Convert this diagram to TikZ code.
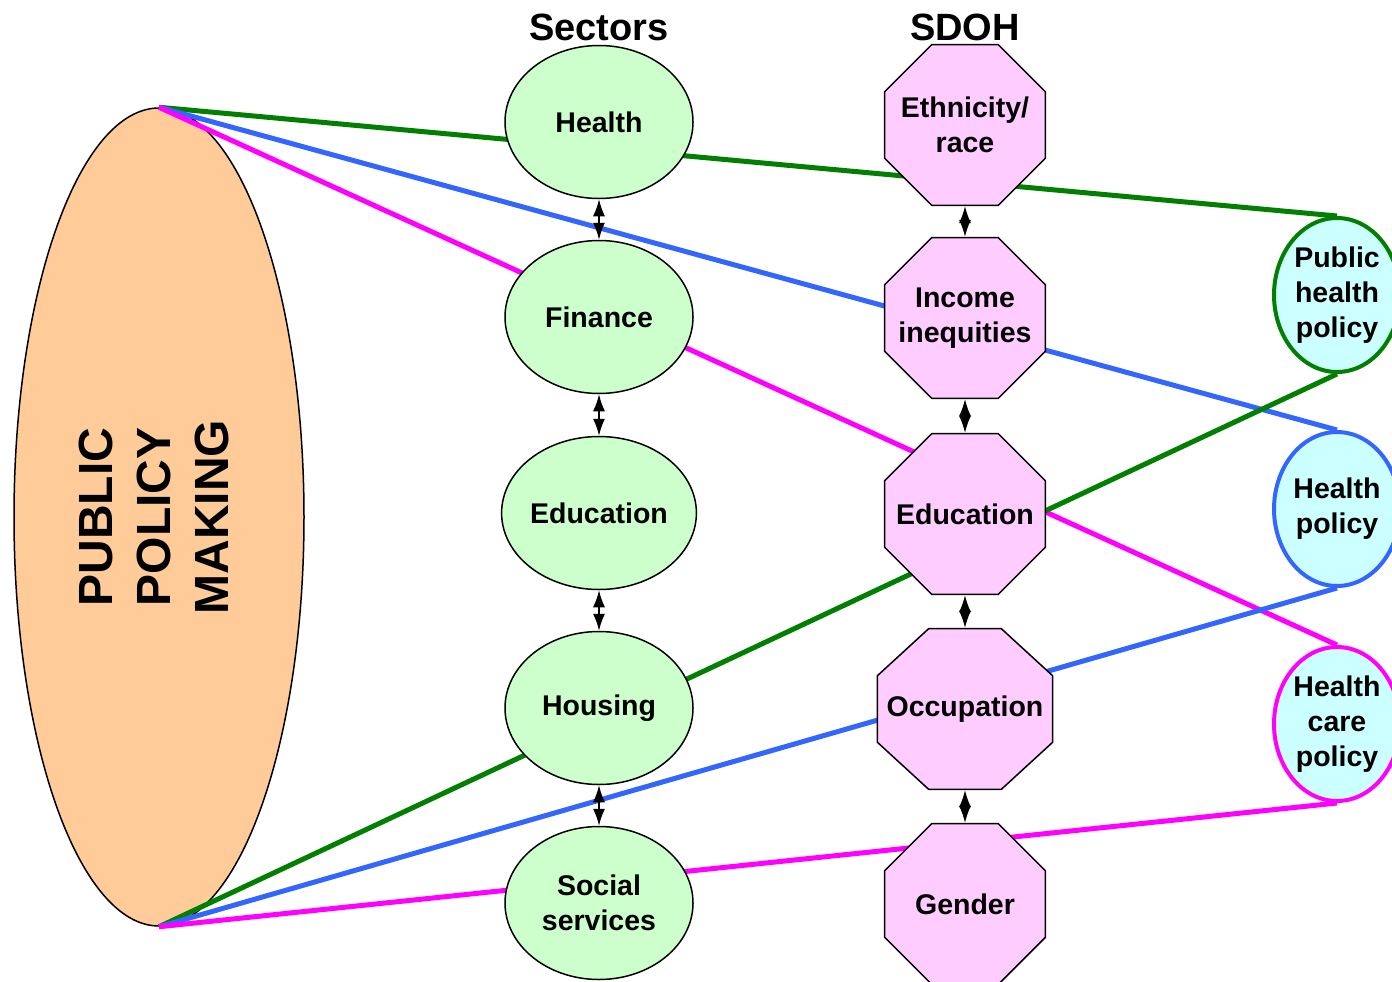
\documentclass[tikz,border=0pt]{standalone}
\usepackage{fontspec}
\setmainfont{Liberation Sans}
\usepackage{xcolor}
\definecolor{ppmFill}{HTML}{FFCC99}
\definecolor{sectorFill}{HTML}{CCFFCC}
\definecolor{sdohFill}{HTML}{FFCCFF}
\definecolor{policyFill}{HTML}{CCFFFF}
\definecolor{linkGreen}{HTML}{007F00}
\definecolor{linkBlue}{HTML}{3366FF}
\definecolor{linkMagenta}{HTML}{FF00FF}
\usetikzlibrary{shapes,arrows.meta,positioning}
\tikzset{
    ppm/.style={
        draw=black,
        fill=ppmFill,
        ellipse,
        line width=1.5pt,
        minimum width=290pt,
        minimum height=818pt,
        inner sep=0pt,
        align=center,
        font=\fontsize{48}{58}\selectfont\bfseries
    },
    sector/.style={
        draw=black,
        fill=sectorFill,
        ellipse,
        line width=1.5pt,
        minimum width=188pt,
        minimum height=153pt,
        inner sep=0pt,
        align=center,
        font=\fontsize{28.5}{35}\selectfont\bfseries
    },
    sdoh/.style={
        draw=black,
        fill=sdohFill,
        regular polygon,
        regular polygon sides=8,
        line width=1.5pt,
        minimum size=174pt,
        inner sep=0pt,
        label={[sdohtext]center:#1}
    },
    sdohtext/.style={
        inner sep=0pt,
        align=center,
        font=\fontsize{28.5}{35}\selectfont\bfseries
    },
    policy/.style={
        fill=policyFill,
        ellipse,
        line width=4pt,
        minimum width=126pt,
        minimum height=154pt,
        inner sep=0pt,
        align=center,
        font=\fontsize{28.5}{35}\selectfont\bfseries
    },
    heading/.style={
        font=\fontsize{38}{40}\selectfont\bfseries,
        inner sep=0pt
    },
    link/.style={
        line width=5pt
    },
    dblarrow/.style={
        {Latex[length=17pt,width=12pt]}-{Latex[length=17pt,width=12pt]},
        line width=1.5pt,
        color=black
    }
}
\begin{document}
\begin{tikzpicture}[x=1pt,y=-1pt]
    \useasboundingbox (0,0) rectangle (1392,982);

    % Public policy making
    \node[ppm] (ppm) at (159,517) {\rotatebox{90}{\begin{tabular}{@{}c@{}}PUBLIC\\POLICY\\MAKING\end{tabular}}};

    % Policies
    \node[policy, draw=linkGreen] (php) at (1337,295) {Public\\health\\policy};
    \node[policy, draw=linkBlue] (hp) at (1337,509) {Health\\policy};
    \node[policy, draw=linkMagenta] (hcp) at (1337,724) {Health\\care\\policy};

    % Links
    \draw[link, linkGreen] (ppm.north) -- (php.north);
    \draw[link, linkBlue] (ppm.north) -- (hp.north);
    \draw[link, linkMagenta] (ppm.north) -- (hcp.north);
    \draw[link, linkGreen] (ppm.south) -- (php.south);
    \draw[link, linkBlue] (ppm.south) -- (hp.south);
    \draw[link, linkMagenta] (ppm.south) -- (hcp.south);

    % Sectors
    \node[heading] (sectors) at (599,27) {Sectors};
    \node[sector] (health) at (599,122) {Health};
    \node[sector] (finance) at (599,317) {Finance};
    \node[sector] (education) at (599,513) {Education};
    \node[sector] (housing) at (599,708) {Housing};
    \node[sector] (social) at (599,903) {Social\\services};

    % SDOH
    \node[heading] (sdohtitle) at (965,27) {SDOH};
    \node[sdoh={Ethnicity/\\race}] (ethnicity) at (965,125) {};
    \node[sdoh={Income\\inequities}] (income) at (965,318) {};
    \node[sdoh={Education}] (educ) at (965,514) {};
    \node[sdoh={Occupation}, xscale=1.09, transform shape] (occupation) at (965,709) {};
    \node[sdoh={Gender}] (gender) at (965,904) {};

    % Arrows
    \draw[dblarrow] (health) -- (finance);
    \draw[dblarrow] (finance) -- (education);
    \draw[dblarrow] (education) -- (housing);
    \draw[dblarrow] (housing) -- (social);
    \draw[dblarrow] (ethnicity) -- (income);
    \draw[dblarrow] (income) -- (educ);
    \draw[dblarrow] (educ) -- (occupation);
    \draw[dblarrow] (occupation) -- (gender);
\end{tikzpicture}
\end{document}
